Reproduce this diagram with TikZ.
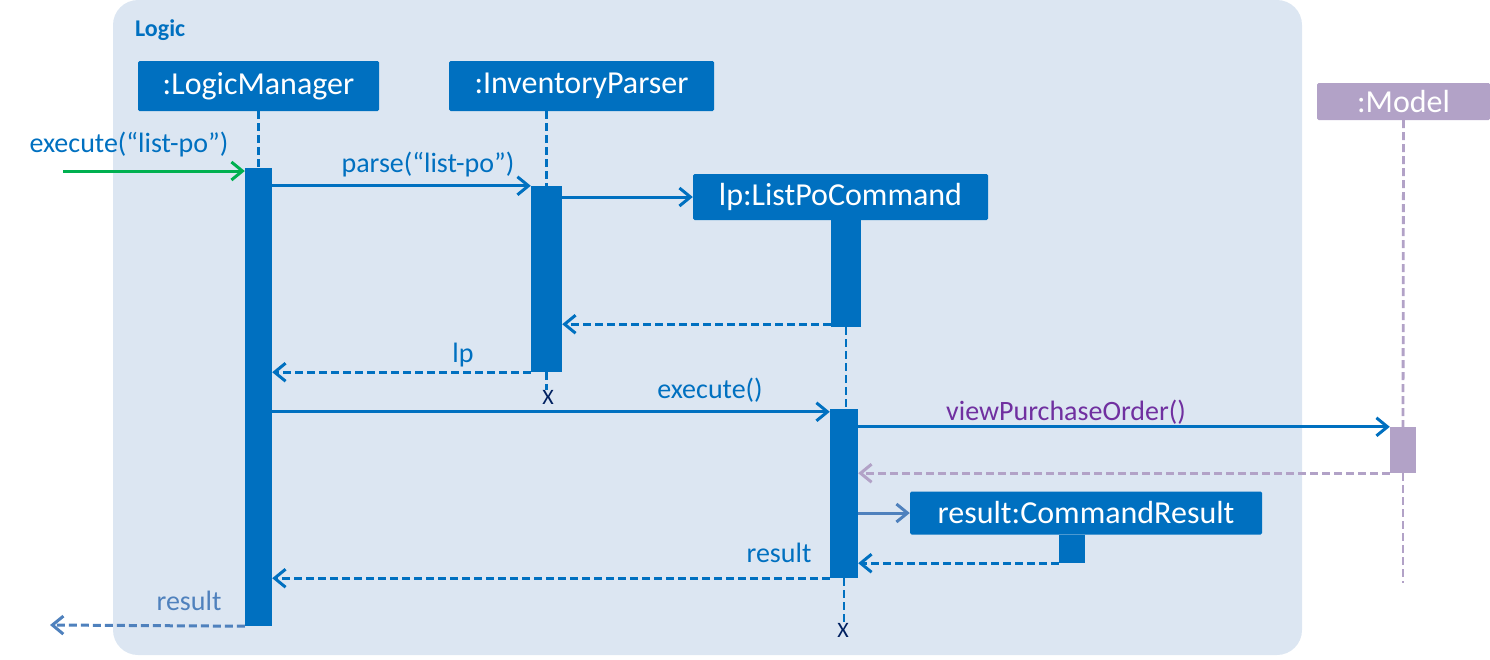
\documentclass[tikz,border=0pt]{standalone}
\usepackage{fontspec}
\setmainfont{Carlito}
\usepackage{tikz}
\usetikzlibrary{arrows.meta, positioning}
\definecolor{umlblue}{HTML}{0070C0}
\definecolor{framefill}{HTML}{DCE6F2}
\definecolor{modelpurple}{HTML}{B2A2C7}
\definecolor{msgpurple}{HTML}{7030A0}
\definecolor{callgreen}{HTML}{00B050}
\definecolor{steelblue}{HTML}{4F81BD}
\definecolor{xnavy}{HTML}{002060}
\tikzset{
  obj/.style={fill=umlblue, text=white, inner sep=0pt, rounded corners=1.5pt, font=\fontsize{32}{36}\selectfont},
  act/.style={fill=umlblue, inner sep=0pt},
  life/.style={umlblue, line width=2.8pt, dash pattern=on 8pt off 4pt},
  msg/.style={umlblue, line width=3pt, -{Straight Barb[length=11pt,width=18pt]}},
  ret/.style={msg, dash pattern=on 8pt off 4pt},
  lbl/.style={text=umlblue, anchor=base, inner sep=0pt, font=\fontsize{28}{32}\selectfont},
  xmark/.style={text=xnavy, inner sep=0pt, font=\fontsize{22}{26}\selectfont},
}

\begin{document}
\begin{tikzpicture}[line cap=butt, x=1pt, y=-1pt]
\useasboundingbox (0,0) rectangle (1490,659);
\fill [framefill, rounded corners=25pt] (113,0) rectangle (1302,655);
\node [anchor=base west, inner sep=0pt, text=umlblue, font=\bfseries\fontsize{24}{28}\selectfont] (logicLbl) at (135,36) {Logic};
% objects
\node [obj, minimum width=241pt, minimum height=50pt] (lm) at (258.5,86) {:LogicManager};
\node [obj, minimum width=265pt, minimum height=50pt] (ip) at (581.5,86) {:InventoryParser};
\node [obj, minimum width=295pt, minimum height=46pt] (lpc) at (840.5,197) {lp:ListPoCommand};
\node [obj, fill=modelpurple, minimum width=173pt, minimum height=37pt] (mdl) at (1403.5,101.5) {:Model};
\node [obj, minimum width=352pt, minimum height=43pt] (cr) at (1086,513) {result:CommandResult};
% activations
\node [act, minimum width=27pt, minimum height=458pt] (lmAct) at (258.5,397) {};
\node [act, minimum width=31pt, minimum height=186pt] (ipAct) at (546.5,279) {};
\node [act, minimum width=30pt, minimum height=107pt] (lpAct) at (846,273.5) {};
\node [act, minimum width=28pt, minimum height=169pt] (exAct) at (844,493.5) {};
\node [act, fill=modelpurple, minimum width=26pt, minimum height=46pt] (mAct) at (1403,450) {};
\node [act, minimum width=26pt, minimum height=28pt] (crAct) at (1072,549) {};
\node [xmark] (ipX) at (548,397) {X};
\node [xmark] (lpX) at (843,630) {X};
\coordinate (mEnd) at (1403,583);
\coordinate (inStart) at (63,171);
\coordinate (outEnd) at (50,625);
% lifelines
\draw [life] (lm.south) -- (lmAct.north);
\draw [life] (ip.south -| ipAct.north) -- (ipAct.north);
\draw [life] (ipAct.south) -- (ipAct.south |- ipX.north);
\draw [life] (lpAct.south) -- (lpAct.south |- exAct.north);
\draw [life] (exAct.south) -- (exAct.south |- lpX.north);
\draw [life, modelpurple] (mdl.south) -- (mAct.north);
\draw [life, modelpurple] (mAct.south) -- (mEnd);
% messages
\draw [msg, callgreen] (inStart) -- (inStart -| lmAct.west);
\draw [msg] (lmAct.east |- ipAct.north) -- (ipAct.north west);
\draw [msg] (ipAct.east |- lpc.west) -- (lpc.west);
\draw [ret] ([yshift=3pt]lpAct.south west) -- ([yshift=3pt]lpAct.south west -| ipAct.east);
\draw [ret] (ipAct.south west) -- (ipAct.south west -| lmAct.east);
\draw [msg] ([yshift=-3pt]lmAct.east |- exAct.north) -- ([yshift=-3pt]exAct.north west);
\draw [msg] (exAct.east |- mAct.north) -- (mAct.north west);
\draw [ret, modelpurple] (mAct.south west) -- (mAct.south west -| exAct.east);
\draw [msg, steelblue] (exAct.east |- cr.west) -- (cr.west);
\draw [ret] (crAct.south west) -- (crAct.south west -| exAct.east);
\draw [ret] (exAct.south west) -- (exAct.south west -| lmAct.east);
\draw [ret, steelblue] (lmAct.south west) -- (outEnd);
% labels
\node [lbl] (inLbl) at (129,152) {execute(“list-po”)};
\node [lbl] (parseLbl) at (428,172) {parse(“list-po”)};
\node [lbl] (lpLbl) at (463,362) {lp};
\node [lbl] (exLbl) at (710,398) {execute()};
\node [lbl, text=msgpurple] (vpLbl) at (1066,420) {viewPurchaseOrder()};
\node [lbl] (resLbl) at (779,562) {result};
\node [lbl, text=steelblue] (outLbl) at (189,610) {result};
\end{tikzpicture}
\end{document}
